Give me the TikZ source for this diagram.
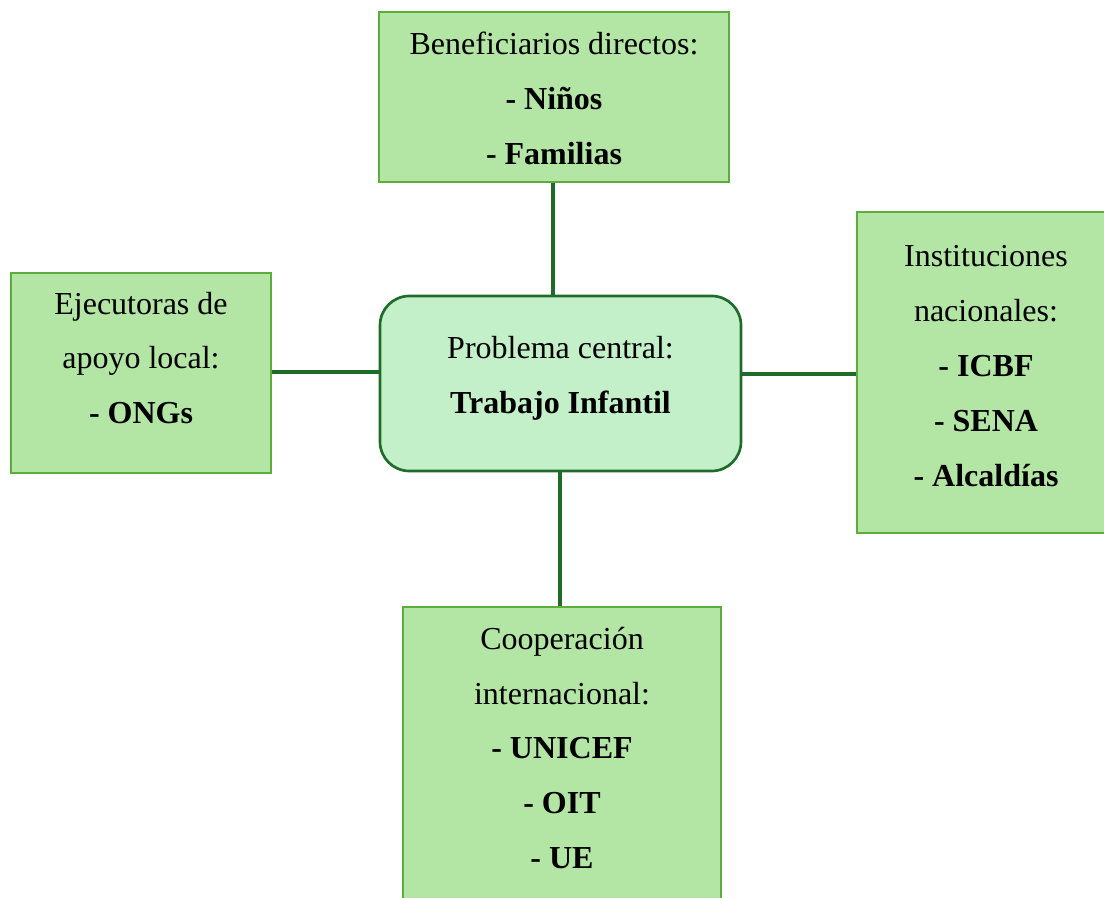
\documentclass[tikz,border=0pt]{standalone}
\usepackage{fontspec}
\setmainfont{Liberation Serif}
\definecolor{boxfill}{HTML}{B3E5A4}
\definecolor{boxline}{HTML}{5CAD3B}
\definecolor{cfill}{HTML}{C3F0C9}
\definecolor{cline}{HTML}{1F6B29}
\tikzset{
  stakebox/.style={draw=boxline, fill=boxfill, line width=1.6pt, rectangle, inner sep=0pt},
  centralbox/.style={draw=cline, fill=cfill, line width=2pt, rectangle, rounded corners=22pt, inner sep=0pt},
  txt/.style={align=center, inner sep=0pt, font=\fontsize{24}{41.2}\selectfont},
  link/.style={draw=cline, line width=2.3pt}
}
\begin{document}
\begin{tikzpicture}[x=0.75pt,y=-0.75pt]
\useasboundingbox (0,0) rectangle (1104,898);
\clip (0,0) rectangle (1104,898);
% boxes
\node[stakebox, minimum width=350*0.75pt, minimum height=170*0.75pt] (top) at (554,97) {};
\node[centralbox, minimum width=361*0.75pt, minimum height=175*0.75pt] (center) at (560.5,383.5) {};
\node[stakebox, minimum width=260*0.75pt, minimum height=200*0.75pt] (left) at (141,373) {};
\node[stakebox, minimum width=262*0.75pt, minimum height=321*0.75pt] (right) at (988,372.5) {};
\node[stakebox, minimum width=318*0.75pt, minimum height=320*0.75pt] (bottom) at (562,767) {};
% connectors
\draw[link] (top.south -| 553,0) -- (center.north -| 553,0);
\draw[link] (left.east |- 0,372) -- (center.west |- 0,372);
\draw[link] (center.east |- 0,374) -- (right.west |- 0,374);
\draw[link] (center.south -| 560,0) -- (bottom.north -| 560,0);
% texts
\node[txt] (toptxt) at (554,98) {Beneficiarios directos:\\\textbf{- Niños}\\\textbf{- Familias}};
\node[txt] (centertxt) at (560.5,378) {Problema central:\\\textbf{Trabajo Infantil}};
\node[txt] (lefttxt) at (141,358) {Ejecutoras de\\apoyo local:\\\textbf{- ONGs}};
\node[txt] (righttxt) at (986,366) {Instituciones\\nacionales:\\\textbf{- ICBF}\\\textbf{- SENA}\\\textbf{- Alcaldías}};
\node[txt] (bottomtxt) at (562,748) {Cooperación\\internacional:\\\textbf{- UNICEF}\\\textbf{- OIT}\\\textbf{- UE}};
\end{tikzpicture}
\end{document}
